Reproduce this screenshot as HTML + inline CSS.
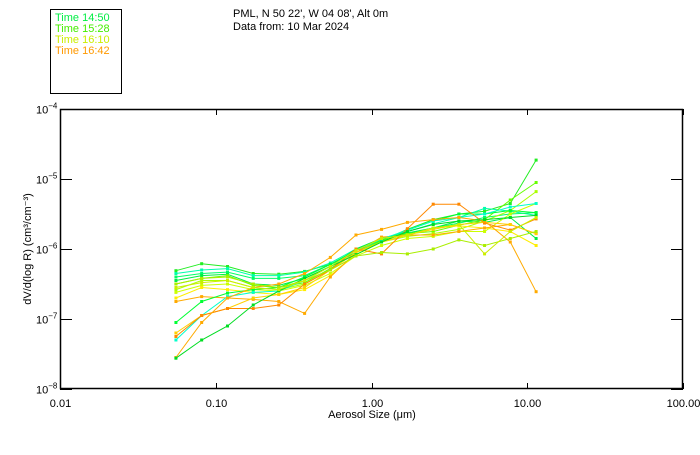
<!DOCTYPE html>
<html><head><meta charset="utf-8"><style>
body{margin:0;background:#fff;}
svg text{font-family:"Liberation Sans","DejaVu Sans",sans-serif;}
</style></head><body>
<svg id="chart" width="700" height="450" viewBox="0 0 700 450" xmlns="http://www.w3.org/2000/svg">
<rect x="0" y="0" width="700" height="450" fill="#fff"/>
<g>
<rect x="50.5" y="9.5" width="71" height="84" fill="none" stroke="#000" stroke-width="1"/>
<text x="55" y="21" font-size="11" fill="#00ee44">Time 14:50</text>
<text x="55" y="32" font-size="11" fill="#44ee00">Time 15:28</text>
<text x="55" y="43" font-size="11" fill="#ccee00">Time 16:10</text>
<text x="55" y="54" font-size="11" fill="#ff9900">Time 16:42</text>
</g>
<text x="233" y="17" font-size="11" fill="#000">PML, N 50 22', W 04 08', Alt 0m</text>
<text x="233" y="30" font-size="11" fill="#000">Data from: 10 Mar 2024</text>
<g id="axes"></g>
<g id="series"></g>
<text x="372" y="418" font-size="11" text-anchor="middle">Aerosol Size (μm)</text>
<text transform="translate(31,249) rotate(-90)" font-size="11" text-anchor="middle">dV/d(log R) (cm³/cm⁻³)</text>
</svg>
<script>
const xTickVals = [0.01, 0.1, 1, 10, 100];
const xTickLabels = ["0.01", "0.10", "1.00", "10.00", "100.00"];
const yTickExps = [-4, -5, -6, -7, -8];
const sizes = [0.0555,0.0812,0.119,0.174,0.254,0.372,0.544,0.795,1.16,1.70,2.49,3.64,5.32,7.78,11.4];
const seriesColors = ["#22ee22","#00ffaa","#00ff66","#00ee44","#66ff00","#aaff00","#ccff00","#ffee00","#ffaa00","#00ff33","#00ffcc","#ffd000","#ff8800","#ffaa00","#00dd22","#aaee00","#ccee00"];
const s1=[-6.31,-6.21,-6.25,-6.35,-6.36,-6.32,-6.22,-6.05,-5.88,-5.72,-5.58,-5.5,-5.46,-5.35,-4.73];
const s2=[-6.35,-6.3,-6.28,-6.38,-6.38,-6.33,-6.2,-6.0,-5.85,-5.75,-5.64,-5.55,-5.42,-5.46,-5.52];
const s3=[-6.4,-6.35,-6.33,-6.42,-6.42,-6.38,-6.22,-6.02,-5.86,-5.77,-5.7,-5.63,-5.55,-5.5,-5.48];
const s4=[-6.45,-6.38,-6.36,-6.5,-6.52,-6.42,-6.25,-6.0,-5.85,-5.78,-5.7,-5.6,-5.62,-5.55,-5.85];
const s5=[-6.5,-6.42,-6.38,-6.52,-6.55,-6.48,-6.28,-6.05,-5.88,-5.78,-5.75,-5.66,-5.58,-5.3,-5.05];
const s6=[-6.58,-6.45,-6.45,-6.55,-6.58,-6.5,-6.3,-6.05,-5.9,-5.82,-5.78,-5.72,-5.6,-5.45,-5.18];
const s7=[-6.62,-6.52,-6.5,-6.58,-6.6,-6.52,-6.35,-6.1,-5.95,-5.85,-5.82,-5.75,-5.75,-5.5,-5.35];
const s8=[-6.7,-6.55,-6.58,-6.62,-6.65,-6.58,-6.38,-6.08,-5.9,-5.8,-5.7,-5.67,-5.7,-5.75,-5.95];
const s9=[-6.75,-6.68,-6.7,-6.72,-6.75,-6.92,-6.4,-6.05,-5.83,-5.8,-5.8,-5.75,-5.7,-5.65,-5.78];
const s10=[-7.05,-6.75,-6.63,-6.58,-6.55,-6.4,-6.22,-6.02,-5.87,-5.73,-5.6,-5.5,-5.5,-5.45,-5.48];
const s11=[-7.3,-6.95,-6.68,-6.62,-6.6,-6.45,-6.25,-6.02,-5.86,-5.73,-5.6,-5.55,-5.5,-5.4,-5.35];
const s12=[-7.2,-6.95,-6.85,-6.7,-6.65,-6.55,-6.3,-6.05,-5.9,-5.8,-5.72,-5.65,-5.62,-5.65,-5.78];
const s13=[-7.25,-6.95,-6.85,-6.85,-6.8,-6.5,-6.3,-6.0,-6.07,-5.71,-5.36,-5.36,-5.63,-5.73,-5.57];
const s14=[-7.55,-7.05,-6.7,-6.55,-6.5,-6.35,-6.12,-5.8,-5.72,-5.62,-5.58,-5.55,-5.6,-5.9,-6.61];
const s15=[-7.56,-7.3,-7.1,-6.8,-6.6,-6.42,-6.25,-6.08,-5.9,-5.75,-5.65,-5.6,-5.58,-5.55,-5.52];
const s16=[-6.5,-6.42,-6.4,-6.5,-6.55,-6.45,-6.3,-6.1,-6.05,-6.07,-6.0,-5.87,-5.95,-5.85,-5.75];
const s17=[-6.55,-6.48,-6.45,-6.55,-6.58,-6.45,-6.25,-6.02,-5.85,-5.8,-5.7,-5.65,-6.07,-5.75,-5.55];
const allSeries=[s1,s2,s3,s4,s5,s6,s7,s8,s9,s10,s11,s12,s13,s14,s15,s16,s17];

const L=60,R=683,T=109,B=389;
const xScale=v=>L+(Math.log10(v)+2)/4*(R-L);
const yScale=e=>T+(-4-e)/4*(B-T);
const NS="http://www.w3.org/2000/svg";
function mk(tag,attrs,parent){const el=document.createElementNS(NS,tag);for(const k in attrs)el.setAttribute(k,attrs[k]);parent.appendChild(el);return el;}
const axes=document.getElementById('axes');
const frame=mk('rect',{x:L+0.5,y:T+0.5,width:R-L-1,height:B-T-1,fill:'none',stroke:'#000','stroke-width':1.5},axes);


xTickVals.forEach((v,i)=>{
  const x=Math.round(xScale(v))+0.5;
  const t1=mk('line',{x1:x,x2:x,y1:B,y2:B-6,stroke:'#000'},axes);
  
  
  const t2=mk('line',{x1:x,x2:x,y1:T,y2:T+6,stroke:'#000'},axes);
  
  
  const tx=mk('text',{x:x,y:B+18,'font-size':11,'text-anchor':'middle'},axes);
  tx.textContent=xTickLabels[i];
  
  
});
yTickExps.forEach(e=>{
  const y=Math.round(yScale(e))+0.5;
  const t=mk('line',{x1:L,x2:L+12,y1:y,y2:y,stroke:'#000'},axes);
  
  
  const t2=mk('line',{x1:R,x2:R-12,y1:y,y2:y,stroke:'#000'},axes);
  
  
  const tx=mk('text',{x:36,y:y+4,'font-size':11},axes);
  tx.textContent='10';
  const sp=mk('tspan',{dy:-5,'font-size':8},tx);
  sp.textContent=String(e).replace('-','−');
  
  
});
const sg=document.getElementById('series');
allSeries.forEach((s,si)=>{
  const c=seriesColors[si];
  const g=mk('g',{},sg);
  
  
  const pts=s.map((v,i)=>xScale(sizes[i]).toFixed(1)+','+yScale(v).toFixed(1)).join(' ');
  const pl=mk('polyline',{points:pts,fill:'none',stroke:c,'stroke-width':1},g);
  
  
  s.forEach((v,i)=>{
    const m=mk('rect',{x:xScale(sizes[i])-1.5,y:yScale(v)-1.5,width:3,height:3,fill:c},g);
    
    
  });
});
</script>
</body></html>
